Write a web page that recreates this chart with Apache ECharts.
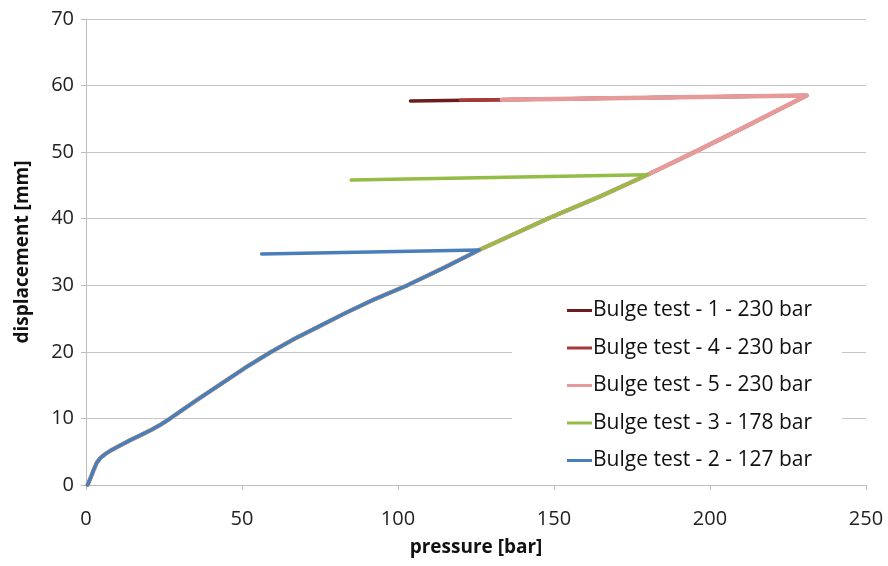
<!DOCTYPE html>
<html><head><meta charset="utf-8">
<script src="https://cdn.jsdelivr.net/npm/echarts@6/dist/echarts.min.js"></script>
<style>html,body{margin:0;padding:0;background:#fff}#c{width:888px;height:566px}</style>
</head><body><div id="c"></div>
<script>
// Shared loading path (pressure [bar], displacement [mm])
const loadPressure = [0.5, 1.5, 2.5, 3.4, 4.5, 6, 8, 10, 14, 18, 21, 24, 27, 31, 35, 43, 51, 59, 67, 75, 83, 92, 103, 115, 126, 148, 165, 180, 195, 210, 231];
const loadDisp     = [0,   1.1, 2.3, 3.3, 4.0, 4.6, 5.2, 5.7, 6.7, 7.6, 8.3, 9.1, 10, 11.3, 12.6, 15.1, 17.6, 19.9, 22.0, 23.9, 25.8, 27.8, 30, 32.7, 35.3, 40, 43.4, 46.6, 50, 53.5, 58.5];

// Each test: peak pressure along the loading path and the unloading end point
const seriesNames  = ['Bulge test - 1 - 230 bar', 'Bulge test - 4 - 230 bar', 'Bulge test - 5 - 230 bar', 'Bulge test - 3 - 178 bar', 'Bulge test - 2 - 127 bar'];
const peakPressure = [231, 231, 231, 180, 126];
const endPressure  = [104, 120, 133.3, 85, 56.3];
const endDisp      = [57.7, 57.8, 57.88, 45.8, 34.7];
const colors       = ['#6B1D1D', '#A8393A', '#E59B99', '#93BD45', '#4A7EBB'];
const widths       = [3.5, 3.5, 4.5, 3.5, 3.5];

const xTicks = [0, 50, 100, 150, 200, 250];
const yTicks = [0, 10, 20, 30, 40, 50, 60, 70];

function buildData(i) {
  const d = [];
  for (let k = 0; k < loadPressure.length; k++) {
    if (loadPressure[k] <= peakPressure[i]) d.push([loadPressure[k], loadDisp[k]]);
  }
  d.push([endPressure[i], endDisp[i]]);
  return d;
}

const font = 'Open Sans, Noto Sans, sans-serif';
const chart = echarts.init(document.getElementById('c'));
chart.setOption({
  animation: false,
  grid: { left: 86, top: 19, right: 22, bottom: 81, containLabel: false },
  xAxis: {
    type: 'value', min: xTicks[0], max: xTicks[xTicks.length - 1], interval: 50,
    name: 'pressure [bar]', nameLocation: 'middle', nameGap: 53,
    nameTextStyle: { fontFamily: font, fontWeight: 'bold', fontSize: 19, color: '#111' },
    axisLine: { show: true, lineStyle: { color: '#bdbdbd', width: 1 } },
    axisTick: { show: true, inside: false, length: 5, lineStyle: { color: '#bdbdbd' } },
    axisLabel: { fontFamily: font, fontSize: 20, color: '#222', margin: 24 },
    splitLine: { show: false }
  },
  yAxis: {
    type: 'value', min: yTicks[0], max: yTicks[yTicks.length - 1], interval: 10,
    name: 'displacement [mm]', nameLocation: 'middle', nameGap: 54,
    nameTextStyle: { fontFamily: font, fontWeight: 'bold', fontSize: 19, color: '#111' },
    axisLine: { show: true, lineStyle: { color: '#bdbdbd', width: 1 } },
    axisTick: { show: true, inside: false, length: 5, lineStyle: { color: '#bdbdbd' } },
    axisLabel: { fontFamily: font, fontSize: 20, color: '#222', margin: 12 },
    splitLine: { show: true, lineStyle: { color: '#c6c6c6', width: 1 } }
  },
  legend: {
    data: seriesNames,
    orient: 'vertical',
    left: 512, top: 293,
    padding: [7, 30, 8, 55],
    backgroundColor: '#ffffff',
    itemWidth: 25, itemHeight: 3, itemGap: 16.5,
    icon: 'rect',
    textStyle: { fontFamily: font, fontSize: 21, color: '#111', padding: [0, 0, 0, -4] }
  },
  series: seriesNames.map((n, i) => ({
    name: n, type: 'line', data: buildData(i), showSymbol: false, symbol: 'none',
    color: colors[i], z: 2 + i,
    lineStyle: { width: widths[i], color: colors[i], cap: 'round', join: 'round' }
  }))
});
</script></body></html>
